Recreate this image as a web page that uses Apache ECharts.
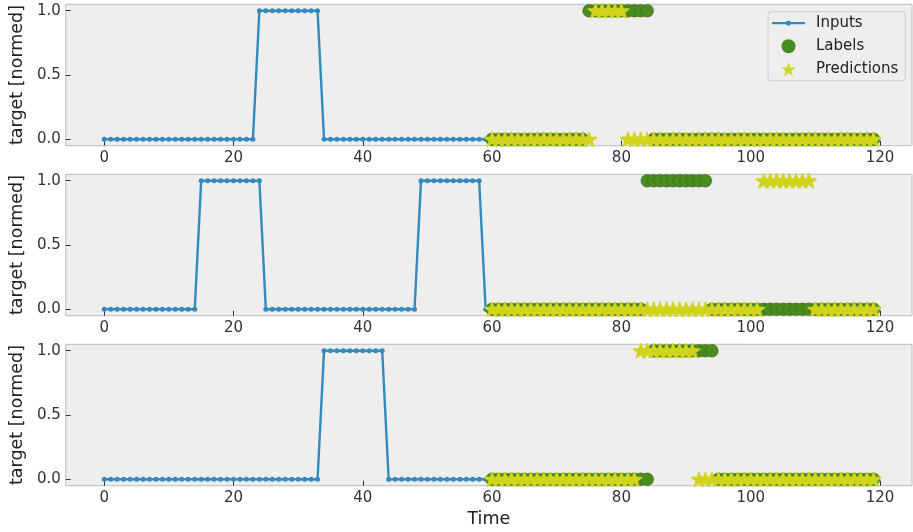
<!DOCTYPE html>
<html>
<head>
<meta charset="utf-8">
<script src="https://cdn.jsdelivr.net/npm/echarts@6/dist/echarts.min.js"></script>
<style>
html,body{margin:0;padding:0;background:#fff;}
#chart{width:913px;height:532px;}
</style>
</head>
<body>
<div id="chart"></div>
<script>
// ---- data (time steps: inputs start at 0, labels/predictions start at 60) ----
const inputStart = 0;
const labelStart = 60;
const xTicks = [0, 20, 40, 60, 80, 100, 120];
const yTicks = [0, 0.5, 1];

const inputs1 = [
  0,0,0,0,0,0,0,0,0,0,
  0,0,0,0,0,0,0,0,0,0,
  0,0,0,0,1,1,1,1,1,1,
  1,1,1,1,0,0,0,0,0,0,
  0,0,0,0,0,0,0,0,0,0,
  0,0,0,0,0,0,0,0,0,0
];
const labels1 = [
  0,0,0,0,0,0,0,0,0,0,
  0,0,0,0,0,1,1,1,1,1,
  1,1,1,1,1,0,0,0,0,0,
  0,0,0,0,0,0,0,0,0,0,
  0,0,0,0,0,0,0,0,0,0,
  0,0,0,0,0,0,0,0,0,0
];
const preds1 = [
  0,0,0,0,0,0,0,0,0,0,
  0,0,0,0,0,0,1,1,1,1,
  1,0,0,0,0,0,0,0,0,0,
  0,0,0,0,0,0,0,0,0,0,
  0,0,0,0,0,0,0,0,0,0,
  0,0,0,0,0,0,0,0,0,0
];

const inputs2 = [
  0,0,0,0,0,0,0,0,0,0,
  0,0,0,0,0,1,1,1,1,1,
  1,1,1,1,1,0,0,0,0,0,
  0,0,0,0,0,0,0,0,0,0,
  0,0,0,0,0,0,0,0,0,1,
  1,1,1,1,1,1,1,1,1,0
];
const labels2 = [
  0,0,0,0,0,0,0,0,0,0,
  0,0,0,0,0,0,0,0,0,0,
  0,0,0,0,1,1,1,1,1,1,
  1,1,1,1,0,0,0,0,0,0,
  0,0,0,0,0,0,0,0,0,0,
  0,0,0,0,0,0,0,0,0,0
];
const preds2 = [
  0,0,0,0,0,0,0,0,0,0,
  0,0,0,0,0,0,0,0,0,0,
  0,0,0,0,0,0,0,0,0,0,
  0,0,0,0,0,0,0,0,0,0,
  0,0,1,1,1,1,1,1,1,1,
  0,0,0,0,0,0,0,0,0,0
];

const inputs3 = [
  0,0,0,0,0,0,0,0,0,0,
  0,0,0,0,0,0,0,0,0,0,
  0,0,0,0,0,0,0,0,0,0,
  0,0,0,0,1,1,1,1,1,1,
  1,1,1,1,0,0,0,0,0,0,
  0,0,0,0,0,0,0,0,0,0
];
const labels3 = [
  0,0,0,0,0,0,0,0,0,0,
  0,0,0,0,0,0,0,0,0,0,
  0,0,0,0,0,1,1,1,1,1,
  1,1,1,1,1,0,0,0,0,0,
  0,0,0,0,0,0,0,0,0,0,
  0,0,0,0,0,0,0,0,0,0
];
const preds3 = [
  0,0,0,0,0,0,0,0,0,0,
  0,0,0,0,0,0,0,0,0,0,
  0,0,0,1,1,1,1,1,1,1,
  1,1,0,0,0,0,0,0,0,0,
  0,0,0,0,0,0,0,0,0,0,
  0,0,0,0,0,0,0,0,0,0
];

const panels = [
  {inputs: inputs1, labels: labels1, preds: preds1},
  {inputs: inputs2, labels: labels2, preds: preds2},
  {inputs: inputs3, labels: labels3, preds: preds3}
];

// ---- styling ----
const FONT = 'DejaVu Sans';
const BLUE = '#348ABD';
const GREEN = '#4a8c1e';
const YELLOW = '#d0d41c';
const STAR = 'path://M100,0 L122.45,69.1 L195.1,69.1 L136.33,111.8 L158.78,180.9 L100,138.2 L41.22,180.9 L63.67,111.8 L4.9,69.1 L77.55,69.1 Z';
const LINE_DOT = 'path://M0,1.4 L33,1.4 L33,3.6 L0,3.6 Z M19.1,2.5 L18.34,4.34 L16.5,5.1 L14.66,4.34 L13.9,2.5 L14.66,0.66 L16.5,-0.1 L18.34,0.66 Z';
const gridTops = [4.3, 174.3, 344.3];
const gridH = 141.4;

const toPairs = (arr, start) => arr.map((v, i) => [start + i, v]);

const grids = [], xAxes = [], yAxes = [], series = [];
panels.forEach((p, k) => {
  grids.push({
    left: 65.5, right: 1, top: gridTops[k], height: gridH,
    show: true, backgroundColor: '#eeeeee', borderColor: '#bcbcbc', borderWidth: 1
  });
  xAxes.push({
    gridIndex: k, type: 'value', min: -5.95, max: 124.95,
    axisLine: {show: false, onZero: false},
    splitLine: {show: false},
    axisTick: {show: true, inside: true, length: 5, customValues: xTicks, lineStyle: {color: '#333', width: 1}},
    axisLabel: {customValues: xTicks, color: '#333', fontFamily: FONT, fontSize: 15, margin: 5},
    name: k === 2 ? 'Time' : '',
    nameLocation: 'middle', nameGap: 25,
    nameTextStyle: {color: '#222', fontFamily: FONT, fontSize: 17.5}
  });
  yAxes.push({
    gridIndex: k, type: 'value', min: -0.05, max: 1.05,
    axisLine: {show: false, onZero: false},
    splitLine: {show: false},
    axisTick: {show: true, inside: true, length: 5, customValues: yTicks, lineStyle: {color: '#333', width: 1}},
    axisLabel: {customValues: yTicks, color: '#333', fontFamily: FONT, fontSize: 15, margin: 5,
      formatter: v => Number(v).toFixed(1)},
    name: 'target [normed]',
    nameLocation: 'middle', nameGap: 38,
    nameTextStyle: {color: '#222', fontFamily: FONT, fontSize: 17.5}
  });
  series.push({
    name: 'Inputs', type: 'line', xAxisIndex: k, yAxisIndex: k,
    data: toPairs(p.inputs, inputStart),
    symbol: 'circle', symbolSize: 5, showSymbol: true,
    lineStyle: {color: BLUE, width: 2.4},
    itemStyle: {color: BLUE},
    z: 1, animation: false
  });
  series.push({
    name: 'Labels', type: 'scatter', xAxisIndex: k, yAxisIndex: k,
    data: toPairs(p.labels, labelStart),
    symbol: 'circle', symbolSize: 13,
    itemStyle: {color: GREEN, borderColor: 'rgba(20,40,10,0.45)', borderWidth: 0.5, opacity: 1},
    z: 2, animation: false
  });
  series.push({
    name: 'Predictions', type: 'scatter', xAxisIndex: k, yAxisIndex: k,
    data: toPairs(p.preds, labelStart),
    symbol: STAR, symbolSize: 14.5, symbolKeepAspect: true,
    itemStyle: {color: YELLOW, borderColor: YELLOW, borderWidth: 1.6, borderJoin: 'round', opacity: 1},
    z: 3, animation: false
  });
});

const chart = echarts.init(document.getElementById('chart'), null, {renderer: 'canvas'});
chart.setOption({
  animation: false,
  backgroundColor: '#ffffff',
  grid: grids,
  xAxis: xAxes,
  yAxis: yAxes,
  legend: {
    orient: 'vertical', left: 768, top: 11.7,
    padding: [4, 7, 4, 4],
    itemWidth: 33, itemHeight: 14, itemGap: 8,
    backgroundColor: '#eeeeee', borderColor: '#cccccc', borderWidth: 1, borderRadius: 3,
    selectedMode: false,
    textStyle: {color: '#222', fontFamily: FONT, fontSize: 15, padding: [0, 0, 0, 6]},
    data: [
      {name: 'Inputs', icon: LINE_DOT, itemStyle: {color: BLUE, borderWidth: 0}},
      {name: 'Labels', icon: 'circle', itemStyle: {color: GREEN, borderWidth: 0}},
      {name: 'Predictions', icon: STAR, itemStyle: {color: YELLOW, borderWidth: 0}}
    ]
  },
  series: series
});
</script>
</body>
</html>
